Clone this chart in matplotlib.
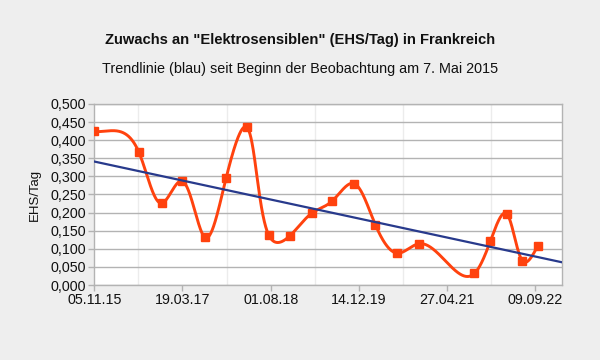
import numpy as np
import matplotlib
matplotlib.use("Agg")
import matplotlib.pyplot as plt
import matplotlib.dates as mdates
from matplotlib.ticker import FixedLocator, FuncFormatter

plt.rcParams['font.family'] = ['Liberation Sans', 'DejaVu Sans']

obs_dates = ["2015-05-07", "2015-11-05", "2016-07-15", "2016-11-23", "2017-03-18", "2017-07-23",
             "2017-11-22", "2018-03-18", "2018-07-21", "2018-11-18", "2019-03-21",
             "2019-07-16", "2019-11-18", "2020-03-16", "2020-07-17", "2020-11-19",
             "2021-09-29", "2021-12-29", "2022-03-30", "2022-06-28", "2022-09-24"]
ehs_per_day = [0.470, 0.424, 0.367, 0.226, 0.287, 0.132,
               0.296, 0.436, 0.138, 0.136, 0.198,
               0.232, 0.280, 0.167, 0.088, 0.114,
               0.032, 0.122, 0.197, 0.067, 0.109]
trend_dates = ["2015-11-05", "2023-02-05"]
trend_values = [0.341, 0.063]
tick_dates = ["2015-11-05", "2017-03-19", "2018-08-01", "2019-12-14", "2021-04-27", "2022-09-09"]
minor_dates = ["2016-07-13", "2017-11-25", "2019-04-09", "2020-08-21", "2022-01-02"]
y_ticks = [0.0, 0.05, 0.1, 0.15, 0.2, 0.25, 0.3, 0.35, 0.4, 0.45, 0.5]

title = 'Zuwachs an "Elektrosensiblen" (EHS/Tag) in Frankreich'
subtitle = "Trendlinie (blau) seit Beginn der Beobachtung am 7. Mai 2015"


def to_num(ds):
    return mdates.date2num(np.array(ds, dtype="datetime64[D]"))


def natural_spline(x, y, xs):
    x = np.asarray(x, float); y = np.asarray(y, float)
    n = len(x); h = np.diff(x)
    A = np.zeros((n, n)); r = np.zeros(n)
    A[0, 0] = 1; A[-1, -1] = 1
    for i in range(1, n - 1):
        A[i, i - 1] = h[i - 1]; A[i, i] = 2 * (h[i - 1] + h[i]); A[i, i + 1] = h[i]
        r[i] = 6 * ((y[i + 1] - y[i]) / h[i] - (y[i] - y[i - 1]) / h[i - 1])
    M = np.linalg.solve(A, r)
    idx = np.clip(np.searchsorted(x, xs) - 1, 0, n - 2)
    x0, x1 = x[idx], x[idx + 1]; hh = x1 - x0
    return (M[idx] * (x1 - xs) ** 3 / (6 * hh) + M[idx + 1] * (xs - x0) ** 3 / (6 * hh)
            + (y[idx] / hh - M[idx] * hh / 6) * (x1 - xs)
            + (y[idx + 1] / hh - M[idx + 1] * hh / 6) * (xs - x0))


xd = to_num(obs_dates)
xt = to_num(trend_dates)

fig = plt.figure(figsize=(6, 3.6), dpi=100, facecolor="#eeeeee")
ax = fig.add_axes([0.157, 0.2083, 0.779, 0.503])
ax.set_facecolor("white")
ax.set_xlim(xt[0], xt[1])
ax.set_ylim(0, 0.5)

# smoothed (parametric cubic spline) line through the observations
pts = ax.transData.transform(np.column_stack([xd, ehs_per_day]))
d = np.diff(pts, axis=0)
t = np.concatenate([[0], np.cumsum(np.hypot(d[:, 0], 0.3 * d[:, 1]))])
ts = np.linspace(0, t[-1], 3000)
sx = natural_spline(t, pts[:, 0], ts)
sy = natural_spline(t, pts[:, 1], ts)
curve = ax.transData.inverted().transform(np.column_stack([sx, sy]))

orange = "#ff420e"
ax.plot(curve[:, 0], curve[:, 1], color=orange, lw=2.1, zorder=3, solid_capstyle="round")
ax.plot(xd, ehs_per_day, ls="none", marker="s", ms=5.5, color=orange, zorder=4)
ax.plot(xt, trend_values, color="#283a8c", lw=1.6, zorder=5)

ax.yaxis.set_major_locator(FixedLocator(y_ticks))
ax.yaxis.set_major_formatter(FuncFormatter(lambda v, p: f"{v:.3f}".replace(".", ",")))
ax.xaxis.set_major_locator(FixedLocator(to_num(tick_dates)))
ax.xaxis.set_major_formatter(mdates.DateFormatter("%d.%m.%y"))
ax.xaxis.set_minor_locator(FixedLocator(to_num(minor_dates)))

ax.grid(axis="y", which="major", color="#b3b3b3", lw=1.0, zorder=0)
ax.grid(axis="x", which="minor", color="#ececec", lw=1.0, zorder=0)
ax.tick_params(axis="both", which="major", labelsize=10.3, color="#b3b3b3",
               length=4, width=1, pad=2, labelcolor="#111111")
ax.tick_params(axis="x", which="minor", length=0)
for s in ax.spines.values():
    s.set_color("#b3b3b3")
    s.set_linewidth(1.0)

ax.set_ylabel("EHS/Tag", fontsize=9.5, labelpad=7, color="#111111")

fig.text(0.5, 0.889, title, ha="center", va="center", fontsize=10.6, fontweight="bold", color="#111111")
fig.text(0.5, 0.808, subtitle, ha="center", va="center", fontsize=10.4, color="#111111")

fig.savefig("out.png", dpi=100, facecolor=fig.get_facecolor())
